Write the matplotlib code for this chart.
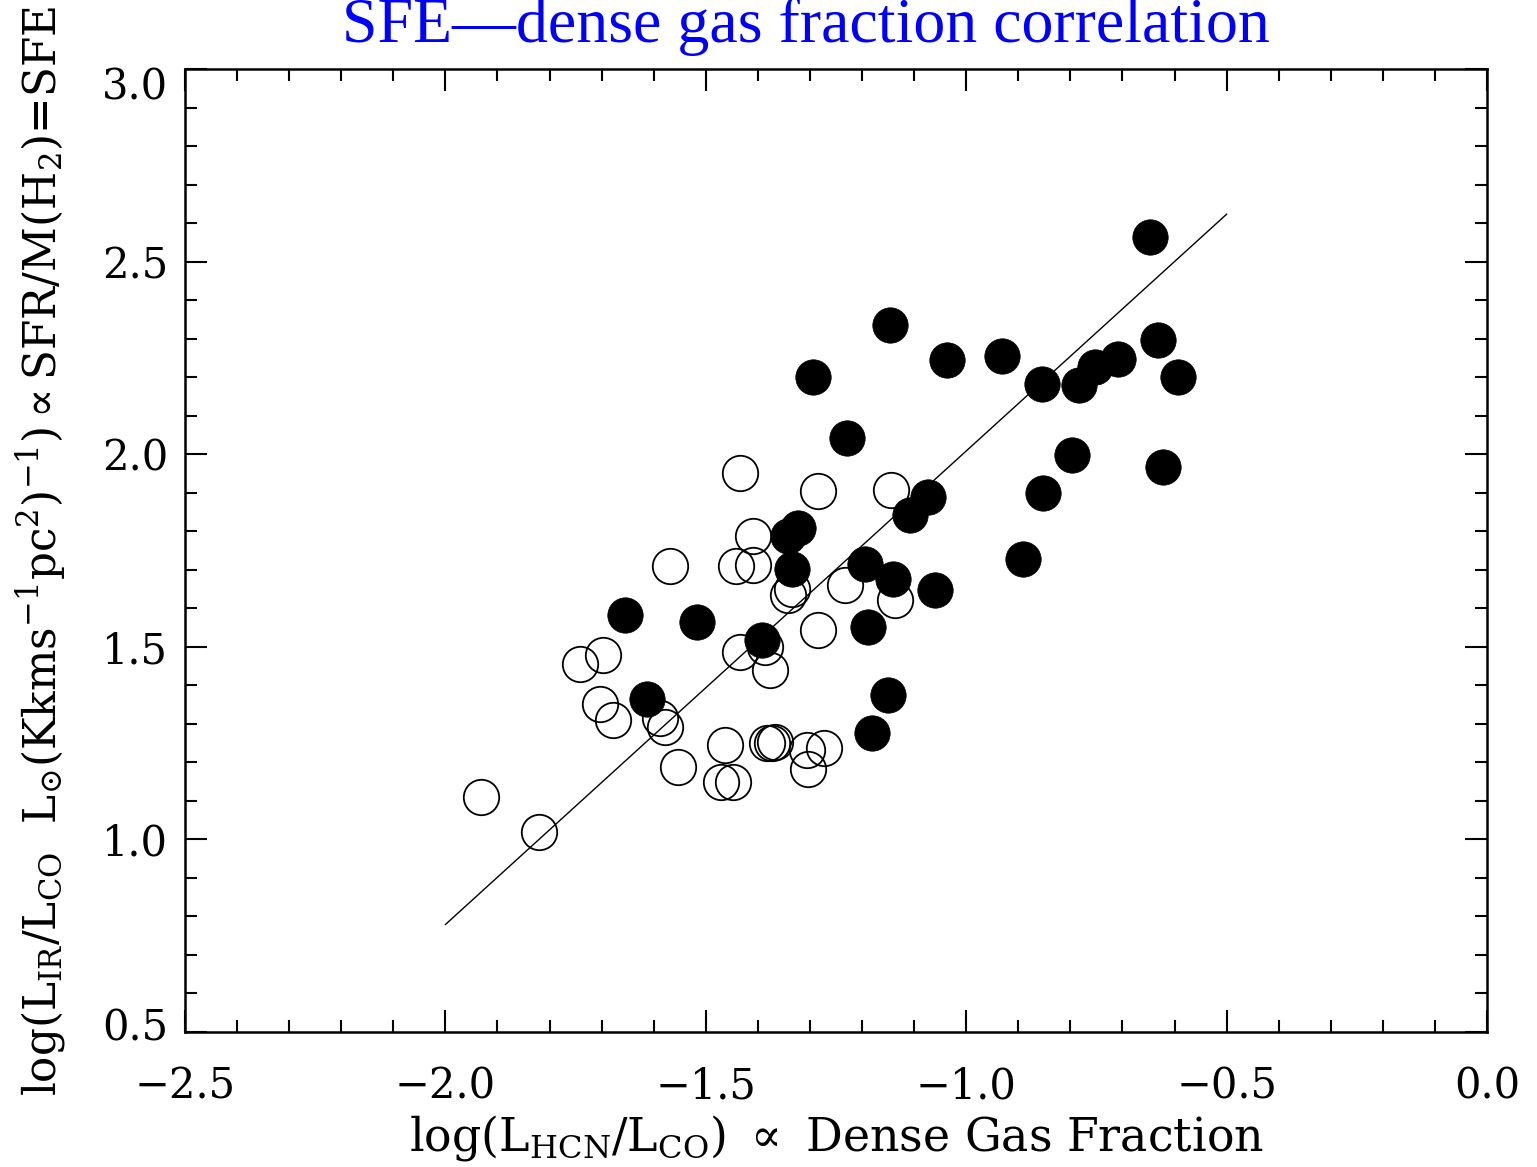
import matplotlib
matplotlib.use("Agg")
import matplotlib.pyplot as plt
from matplotlib.ticker import MultipleLocator
from matplotlib.transforms import ScaledTranslation

plt.rcParams['font.family'] = ['DejaVu Serif']
plt.rcParams['mathtext.fontset'] = 'dejavuserif'

# Filled circles
filled_x = [-0.647, -1.146, -1.037, -0.932, -1.294, -0.855, -0.783, -0.753, -0.708, -0.631,
            -0.593, -1.229, -0.797, -0.623, -0.852, -1.073, -1.108, -0.890, -1.194, -1.140,
            -1.060, -1.342, -1.323, -1.335, -1.655, -1.517, -1.393, -1.613, -1.150, -1.180,
            -1.188]
filled_y = [2.564, 2.335, 2.244, 2.255, 2.201, 2.181, 2.179, 2.227, 2.246, 2.296,
            2.201, 2.041, 1.997, 1.967, 1.898, 1.889, 1.842, 1.729, 1.716, 1.677,
            1.647, 1.787, 1.808, 1.703, 1.582, 1.564, 1.517, 1.365, 1.374, 1.275,
            1.551]

# Open circles
open_x = [-1.434, -1.284, -1.145, -1.410, -1.569, -1.442, -1.409, -1.335, -1.342, -1.233,
          -1.137, -1.284, -1.434, -1.386, -1.377, -1.742, -1.697, -1.703, -1.678, -1.588,
          -1.578, -1.463, -1.383, -1.373, -1.367, -1.306, -1.274, -1.303, -1.553, -1.471,
          -1.447, -1.932, -1.820]
open_y = [1.950, 1.904, 1.906, 1.787, 1.710, 1.709, 1.712, 1.649, 1.634, 1.660,
          1.621, 1.543, 1.487, 1.499, 1.439, 1.456, 1.478, 1.352, 1.309, 1.314,
          1.292, 1.244, 1.249, 1.249, 1.253, 1.233, 1.236, 1.184, 1.188, 1.149,
          1.149, 1.110, 1.019]

# Fit line
line_x = [-2.0, -0.5]
line_y = [0.779, 2.623]

xticks = [-2.5, -2.0, -1.5, -1.0, -0.5, 0.0]
xtick_labels = ["\u22122.5", "\u22122.0", "\u22121.5", "\u22121.0", "\u22120.5", "0.0"]
yticks = [0.5, 1.0, 1.5, 2.0, 2.5, 3.0]
ytick_labels = ["0.5", "1.0", "1.5", "2.0", "2.5", "3.0"]

fig = plt.figure(figsize=(15.37, 11.67), dpi=100)
ax = fig.add_axes([185/1537, 1 - 1032/1167, 1302/1537, 963/1167])

ax.plot(open_x, open_y, linestyle='none', marker='o', markersize=25.5,
        markerfacecolor='none', markeredgecolor='black', markeredgewidth=1.3, zorder=2)
ax.plot(line_x, line_y, color='black', linewidth=1.0, zorder=3)
ax.plot(filled_x, filled_y, linestyle='none', marker='o', markersize=25.5,
        markerfacecolor='black', markeredgecolor='black', markeredgewidth=0.5, zorder=4)

ax.set_xlim(-2.5, 0.0)
ax.set_ylim(0.5, 3.0)
ax.set_xticks(xticks)
ax.set_xticklabels(xtick_labels)
ax.set_yticks(yticks)
ax.set_yticklabels(ytick_labels)
ax.xaxis.set_minor_locator(MultipleLocator(0.1))
ax.yaxis.set_minor_locator(MultipleLocator(0.1))
ax.tick_params(which='both', direction='in', top=True, right=True, width=1.5)
ax.tick_params(which='major', length=16)
ax.tick_params(which='minor', length=8.5)
ax.tick_params(axis='x', which='major', labelsize=30, pad=24)
ax.tick_params(axis='y', which='major', labelsize=30, pad=12)
for s in ax.spines.values():
    s.set_linewidth(1.8)

# end labels nudged inward like the original
ylabels_objs = ax.get_yticklabels()
ylabels_objs[-1].set_transform(ylabels_objs[-1].get_transform() +
                               ScaledTranslation(0, -0.14, fig.dpi_scale_trans))
ylabels_objs[0].set_transform(ylabels_objs[0].get_transform() +
                              ScaledTranslation(0, 0.08, fig.dpi_scale_trans))

ax.set_xlabel(r"log(L$_{\mathrm{HCN}}$/L$_{\mathrm{CO}}$) $\propto$ Dense Gas Fraction",
              fontsize=33)
ax.xaxis.set_label_coords(0.5, -0.11)
ax.xaxis.label.set_va('center')

ax.set_ylabel(r"log(L$_{\mathrm{IR}}$/L$_{\mathrm{CO}}$  L$_{\odot}$(Kkms$^{-1}$pc$^{2}$)$^{-1}$)$\propto$SFR/M(H$_{2}$)=SFE",
              fontsize=31.5)
ax.yaxis.set_label_coords(-0.11, 0.5)
ax.yaxis.label.set_va('center')

fig.text(806/1537, 1 - 42/1167, "SFE\u2014dense gas fraction correlation",
         fontsize=46, color='#0000FF', family='Liberation Serif',
         ha='center', va='baseline')

fig.savefig("out.png", dpi=100)
